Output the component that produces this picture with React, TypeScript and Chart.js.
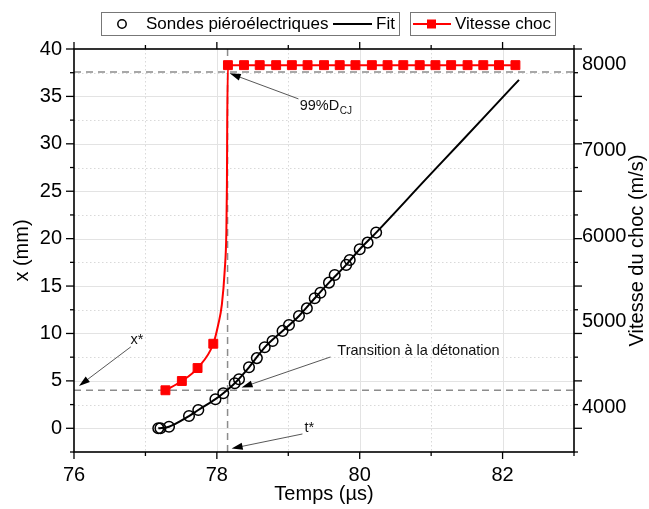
import React, { useEffect, useRef } from 'react';
import { Chart, registerables } from 'chart.js';

Chart.register(...registerables);

const FONT = "'Liberation Sans', Arial, sans-serif";

// Sondes piézoélectriques (time µs, position mm)
const sondesT = [77.18, 77.21, 77.33, 77.61, 77.74, 77.98, 78.09, 78.25, 78.31, 78.45, 78.56, 78.67, 78.78, 78.92, 79.01, 79.15, 79.26, 79.37, 79.45, 79.57, 79.65, 79.81, 79.86, 80.0, 80.11, 80.23];
const sondesX = [0.0, 0.0, 0.17, 1.29, 1.93, 3.07, 3.7, 4.75, 5.17, 6.43, 7.4, 8.54, 9.21, 10.27, 10.9, 11.85, 12.65, 13.71, 14.3, 15.36, 16.17, 17.23, 17.75, 18.88, 19.58, 20.64];

// Fit
const fitT = [77.18, 77.33, 77.61, 77.74, 77.98, 78.09, 78.25, 78.45, 78.67, 78.92, 79.15, 79.37, 79.57, 79.81, 80.0, 80.23, 80.93, 81.39, 82.0, 82.23];
const fitX = [0.0, 0.17, 1.29, 1.93, 3.07, 3.7, 4.75, 6.43, 8.54, 10.27, 11.85, 13.71, 15.36, 17.23, 18.88, 20.64, 26.3, 29.98, 34.9, 36.75];

// Vitesse choc (time µs, m/s); marker flag 1 = square shown
const vitT = [77.28, 77.51, 77.73, 77.95, 78.018, 78.07, 78.11, 78.133, 78.141, 78.145, 78.155, 78.38, 78.60, 78.83, 79.05, 79.27, 79.50, 79.72, 79.94, 80.17, 80.39, 80.61, 80.84, 81.06, 81.28, 81.51, 81.73, 81.95, 82.18];
const vitV = [4203, 4311, 4462, 4745, 4963, 5200, 5600, 6050, 6600, 7300, 7990, 7990, 7990, 7990, 7990, 7990, 7990, 7990, 7990, 7990, 7990, 7990, 7990, 7990, 7990, 7990, 7990, 7990, 7990];
const vitMarker = [1, 1, 1, 1, 0, 0, 0, 0, 0, 0, 1, 1, 1, 1, 1, 1, 1, 1, 1, 1, 1, 1, 1, 1, 1, 1, 1, 1, 1];

// Reference values
const xStar = 4; // mm
const tStar = 78.15; // µs
const dcj99 = 7910; // m/s

// Axis ticks
const xMajor = [76, 78, 80, 82];
const xMinor = [77, 79, 81, 83];
const yMajor = [0, 5, 10, 15, 20, 25, 30, 35, 40];
const yMinor = [-2.5, 2.5, 7.5, 12.5, 17.5, 22.5, 27.5, 32.5, 37.5];
const y2Major = [4000, 5000, 6000, 7000, 8000];

const gridPlugin = {
  id: 'customGrid',
  beforeDatasetsDraw(chart: any) {
    const { ctx, chartArea } = chart;
    const { left, right, top, bottom } = chartArea;
    const xs = chart.scales.x;
    const ys = chart.scales.y;
    ctx.save();
    ctx.lineWidth = 1;
    ctx.strokeStyle = '#d9d9d9';
    ctx.setLineDash([1.5, 2.5]);
    for (const v of xMinor) {
      const p = Math.round(xs.getPixelForValue(v)) + 0.5;
      if (p <= left + 1 || p >= right - 1) continue;
      ctx.beginPath(); ctx.moveTo(p, top); ctx.lineTo(p, bottom); ctx.stroke();
    }
    for (const v of yMinor) {
      const p = Math.round(ys.getPixelForValue(v)) + 0.5;
      if (p <= top + 1 || p >= bottom - 1) continue;
      ctx.beginPath(); ctx.moveTo(left, p); ctx.lineTo(right, p); ctx.stroke();
    }
    ctx.setLineDash([]);
    ctx.strokeStyle = '#e3e3e3';
    for (const v of xMajor) {
      const p = Math.round(xs.getPixelForValue(v)) + 0.5;
      if (p <= left + 1 || p >= right - 1) continue;
      ctx.beginPath(); ctx.moveTo(p, top); ctx.lineTo(p, bottom); ctx.stroke();
    }
    for (const v of yMajor) {
      const p = Math.round(ys.getPixelForValue(v)) + 0.5;
      if (p <= top + 1 || p >= bottom - 1) continue;
      ctx.beginPath(); ctx.moveTo(left, p); ctx.lineTo(right, p); ctx.stroke();
    }
    ctx.restore();
  },
};

function arrow(ctx: CanvasRenderingContext2D, x1: number, y1: number, x2: number, y2: number) {
  const ang = Math.atan2(y2 - y1, x2 - x1);
  const L = 11, W = 3.5;
  ctx.save();
  ctx.strokeStyle = '#444';
  ctx.lineWidth = 0.9;
  ctx.beginPath();
  ctx.moveTo(x1, y1);
  ctx.lineTo(x2 - Math.cos(ang) * L * 0.8, y2 - Math.sin(ang) * L * 0.8);
  ctx.stroke();
  ctx.fillStyle = '#000';
  ctx.beginPath();
  ctx.moveTo(x2, y2);
  ctx.lineTo(x2 - L * Math.cos(ang) + W * Math.sin(ang), y2 - L * Math.sin(ang) - W * Math.cos(ang));
  ctx.lineTo(x2 - L * Math.cos(ang) - W * Math.sin(ang), y2 - L * Math.sin(ang) + W * Math.cos(ang));
  ctx.closePath();
  ctx.fill();
  ctx.restore();
}

const decorPlugin = {
  id: 'decor',
  afterDraw(chart: any) {
    const { ctx, chartArea } = chart;
    const { left, right, top, bottom } = chartArea;
    const xs = chart.scales.x;
    const ys = chart.scales.y;
    ctx.save();
    // frame
    ctx.strokeStyle = '#000';
    ctx.lineWidth = 1.6;
    ctx.strokeRect(left, top, right - left, bottom - top);
    ctx.lineWidth = 1.3;
    const tick = (x1: number, y1: number, x2: number, y2: number) => {
      ctx.beginPath(); ctx.moveTo(x1, y1); ctx.lineTo(x2, y2); ctx.stroke();
    };
    for (const v of xMajor) {
      const p = xs.getPixelForValue(v);
      tick(p, bottom, p, bottom + 7);
      tick(p, top, p, top - 7);
    }
    for (const v of xMinor) {
      const p = xs.getPixelForValue(v);
      tick(p, bottom, p, bottom + 4);
      tick(p, top, p, top - 4);
    }
    for (const v of yMajor) {
      const p = ys.getPixelForValue(v);
      tick(left, p, left - 8, p);
      tick(right, p, right + 8, p);
    }
    for (const v of yMinor) {
      const p = ys.getPixelForValue(v);
      tick(left, p, left - 4, p);
      tick(right, p, right + 4, p);
    }

    // right axis title
    ctx.fillStyle = '#000';
    ctx.font = `20px ${FONT}`;
    ctx.textAlign = 'center';
    ctx.textBaseline = 'middle';
    ctx.save();
    ctx.translate(637, (top + bottom) / 2);
    ctx.rotate(-Math.PI / 2);
    ctx.fillText('Vitesse du choc (m/s)', 0, 0);
    ctx.restore();

    // annotations
    const X = (v: number) => xs.getPixelForValue(v);
    const Y = (v: number) => ys.getPixelForValue(v);
    ctx.font = `14.5px ${FONT}`;
    ctx.textAlign = 'left';
    ctx.textBaseline = 'middle';
    ctx.fillStyle = '#111';
    // 99% DCJ
    ctx.fillText('99%D', X(79.16), Y(34.0));
    const w = ctx.measureText('99%D').width;
    ctx.font = `10px ${FONT}`;
    ctx.fillText('CJ', X(79.16) + w + 0.5, Y(34.0) + 5);
    arrow(ctx, X(79.142), Y(34.74), X(78.18), Y(37.43));
    // x*
    ctx.font = `14.5px ${FONT}`;
    ctx.textAlign = 'center';
    ctx.fillText('x*', X(76.88), Y(9.33));
    arrow(ctx, X(76.796), Y(8.59), X(76.07), Y(4.47));
    // Transition
    ctx.textAlign = 'left';
    ctx.fillText('Transition à la détonation', X(79.687), Y(8.16));
    arrow(ctx, X(79.59), Y(7.52), X(78.346), Y(4.3));
    // t*
    ctx.textAlign = 'center';
    ctx.fillText('t*', X(79.296), Y(0.03));
    arrow(ctx, X(79.198), Y(-0.6), X(78.207), Y(-2.13));

    // legend
    ctx.lineWidth = 1;
    ctx.strokeStyle = '#777';
    ctx.fillStyle = '#fff';
    ctx.fillRect(101, 12.5, 298, 23);
    ctx.strokeRect(101.5, 12.5, 298, 23);
    ctx.fillRect(410, 12.5, 145, 23);
    ctx.strokeRect(410.5, 12.5, 145, 23);
    const cy = 24;
    ctx.strokeStyle = '#000';
    ctx.lineWidth = 1.5;
    ctx.beginPath(); ctx.arc(122, cy, 4.2, 0, Math.PI * 2); ctx.stroke();
    ctx.fillStyle = '#000';
    ctx.font = `17px ${FONT}`;
    ctx.textAlign = 'left';
    ctx.textBaseline = 'middle';
    ctx.fillText('Sondes piéroélectriques', 146, cy + 0.5);
    ctx.lineWidth = 2;
    ctx.beginPath(); ctx.moveTo(333, cy); ctx.lineTo(372, cy); ctx.stroke();
    ctx.fillText('Fit', 376, cy + 0.5);
    ctx.strokeStyle = '#ff0000';
    ctx.beginPath(); ctx.moveTo(413, cy); ctx.lineTo(451, cy); ctx.stroke();
    ctx.fillStyle = '#ff0000';
    ctx.fillRect(427, cy - 4.5, 9, 9);
    ctx.fillStyle = '#000';
    ctx.fillText('Vitesse choc', 455, cy + 0.5);
    ctx.restore();
  },
};

const App = () => {
  const ref = useRef<HTMLCanvasElement>(null);
  useEffect(() => {
    document.body.style.margin = '0';
    const canvas = ref.current as HTMLCanvasElement;
    const refStyle = {
      showLine: true,
      borderColor: '#8c8c8c',
      borderWidth: 1.5,
      borderDash: [7, 5],
      pointRadius: 0,
      fill: false,
    };
    const chart = new Chart(canvas, {
      type: 'scatter',
      data: {
        datasets: [
          {
            label: 'Sondes piéroélectriques',
            data: sondesT.map((t, i) => ({ x: t, y: sondesX[i] })),
            showLine: false,
            pointStyle: 'circle',
            pointRadius: 5.3,
            borderColor: '#000',
            borderWidth: 1.5,
            backgroundColor: 'rgba(0,0,0,0)',
            yAxisID: 'y',
          },
          {
            label: 'Fit',
            data: fitT.map((t, i) => ({ x: t, y: fitX[i] })),
            showLine: true,
            pointRadius: 0,
            borderColor: '#000',
            borderWidth: 2,
            cubicInterpolationMode: 'monotone',
            yAxisID: 'y',
          },
          {
            label: 'Vitesse choc',
            data: vitT.map((t, i) => ({ x: t, y: vitV[i] })),
            showLine: true,
            pointStyle: 'rect',
            pointRadius: vitMarker.map((m) => (m ? 6.3 : 0)),
            borderColor: '#ff0000',
            backgroundColor: '#ff0000',
            borderWidth: 2,
            pointBorderWidth: 1,
            cubicInterpolationMode: 'monotone',
            yAxisID: 'y2',
          },
          { label: 'xstar', data: [{ x: 76, y: xStar }, { x: 83, y: xStar }], yAxisID: 'y', ...refStyle },
          { label: 'dcj', data: [{ x: 76, y: dcj99 }, { x: 83, y: dcj99 }], yAxisID: 'y2', ...refStyle },
          { label: 'tstar', data: [{ x: tStar, y: -2.5 }, { x: tStar, y: 40 }], yAxisID: 'y', ...refStyle },
        ] as any,
      },
      options: {
        animation: false,
        responsive: false,
        layout: { padding: { top: 49, left: 0, right: 0, bottom: 0 } },
        plugins: { legend: { display: false }, tooltip: { enabled: false } },
        scales: {
          x: {
            type: 'linear',
            min: 76,
            max: 83,
            grid: { display: false, drawTicks: false },
            border: { display: false },
            afterBuildTicks: (s: any) => { s.ticks = xMajor.map((v) => ({ value: v })); },
            afterFit: (s: any) => { s.height = 57; },
            ticks: { font: { family: FONT, size: 20 }, color: '#000', padding: 11, maxRotation: 0, autoSkip: false, callback: (v: any) => String(v) },
            title: { display: true, text: 'Temps (µs)', font: { family: FONT, size: 20 }, color: '#000', padding: { top: 0, bottom: 3 } },
          },
          y: {
            type: 'linear',
            position: 'left',
            min: -2.5,
            max: 40,
            grid: { display: false, drawTicks: false },
            border: { display: false },
            afterBuildTicks: (s: any) => { s.ticks = yMajor.map((v) => ({ value: v })); },
            afterFit: (s: any) => { s.width = 74; },
            ticks: { font: { family: FONT, size: 20 }, color: '#000', padding: 12, autoSkip: false, callback: (v: any) => String(v) },
            title: { display: true, text: 'x (mm)', font: { family: FONT, size: 20 }, color: '#000', padding: { top: 10, bottom: 0 } },
          },
          y2: {
            type: 'linear',
            position: 'right',
            min: 3484,
            max: 8178,
            grid: { display: false, drawTicks: false },
            border: { display: false },
            afterBuildTicks: (s: any) => { s.ticks = y2Major.map((v) => ({ value: v })); },
            afterFit: (s: any) => { s.width = 75; },
            ticks: { font: { family: FONT, size: 20 }, color: '#000', padding: 8, autoSkip: false, callback: (v: any) => String(v) },
            title: { display: false },
          },
        },
      } as any,
      plugins: [gridPlugin, decorPlugin],
    });
    return () => chart.destroy();
  }, []);
  return (
    <div style={{ position: 'relative', width: 649, height: 509 }}>
      <canvas ref={ref} width={649} height={509} style={{ display: 'block' }} />
    </div>
  );
};

export default App;
